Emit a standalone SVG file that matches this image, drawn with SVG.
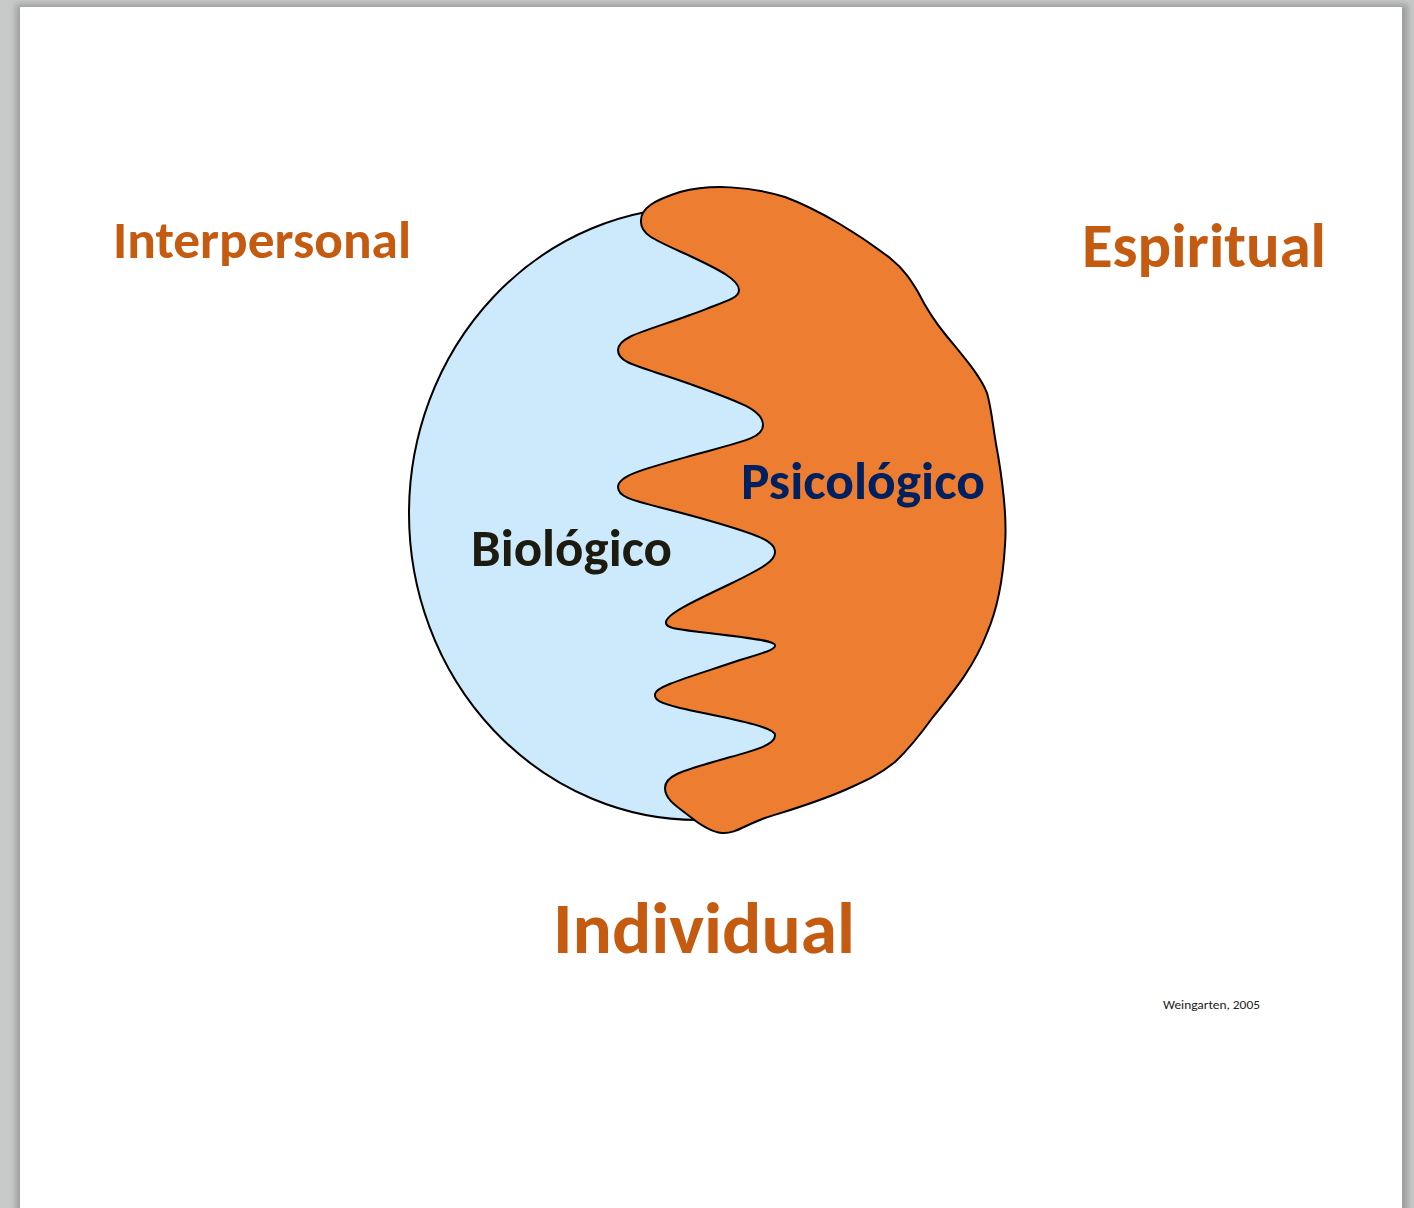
<svg xmlns="http://www.w3.org/2000/svg" width="1414" height="1208" viewBox="0 0 1414 1208">
  <style>
    .dim { font-family: Carlito, Lato, "Liberation Sans", sans-serif; font-weight: bold; fill: #c55a11; }
    .inner { font-family: Carlito, Lato, "Liberation Sans", sans-serif; font-weight: bold; }
    .outline { stroke: #000; stroke-width: 2; stroke-linejoin: round; }
    .credit { font-family: Carlito, Lato, "Liberation Sans", sans-serif; font-size: 12px; fill: #222; }
  </style>
  <defs>
    <filter id="pageShadow" x="-5%" y="-5%" width="110%" height="110%">
      <feGaussianBlur stdDeviation="3"/>
    </filter>
  </defs>

  <!-- viewer background and page -->
  <rect x="0" y="0" width="1414" height="1208" fill="#c8cac9"/>
  <rect x="16" y="4" width="1392" height="1210" fill="#9c9e9d" filter="url(#pageShadow)"/>
  <rect x="20" y="7" width="1382" height="1201" fill="#ffffff"/>

  <!-- biological half: full ellipse -->
  <g id="biologico-area">
    <ellipse cx="698" cy="513.5" rx="289" ry="306.5" fill="#cdeafd" class="outline"/>
  </g>

  <!-- psychological half: wavy region over the right side -->
  <g id="psicologico-area">
    <path class="outline" fill="#ed7d31" d="M 641,222
      C 640,208 655,200 680,192
      C 710,184 750,186 785,197
      C 820,210 860,235 890,258
      C 905,270 912,282 918,292
      C 925,306 932,318 945,334
      C 962,355 980,375 987,393
      C 992,410 993,430 998,455
      C 1003,485 1007,520 1005,545
      C 1003,580 997,610 987,633
      C 975,665 955,690 933,717
      C 920,735 910,748 895,762
      C 875,778 860,783 845,790
      C 815,803 790,810 765,818
      C 745,825 735,834 722,833
      C 712,832 700,825 688,815
      C 673,804 665,798 665,788
      C 665,775 685,770 720,760
      C 755,750 776,745 775,735
      C 775,726 720,717 680,708
      C 660,703 654,700 655,694
      C 656,686 690,677 740,660
      C 770,651 776,649 775,645
      C 774,640 740,637 700,632
      C 675,629 665,628 666,622
      C 667,614 690,603 730,584
      C 765,567 776,560 775,551
      C 774,541 760,535 700,518
      C 640,501 618,500 618,487
      C 618,476 640,470 690,456
      C 745,441 763,438 763,425
      C 763,410 740,402 690,384
      C 640,366 618,364 618,350
      C 618,336 650,330 690,315
      C 730,300 739,298 739,290
      C 739,280 720,270 690,256
      C 655,240 641,235 641,222 Z"/>
  </g>

  <!-- labels inside the figure -->
  <g id="label-biologico">
    <text class="inner" x="471" y="566" font-size="52" fill="#1d1b10" textLength="201" lengthAdjust="spacingAndGlyphs">Biológico</text>
  </g>
  <g id="label-psicologico">
    <text class="inner" x="741" y="499" font-size="52" fill="#002060" textLength="244" lengthAdjust="spacingAndGlyphs">Psicológico</text>
  </g>

  <!-- surrounding dimensions -->
  <g id="label-interpersonal">
    <text class="dim" x="113" y="258" font-size="53" textLength="298" lengthAdjust="spacingAndGlyphs">Interpersonal</text>
  </g>
  <g id="label-espiritual">
    <text class="dim" x="1082" y="267" font-size="63" textLength="244" lengthAdjust="spacingAndGlyphs">Espiritual</text>
  </g>
  <g id="label-individual">
    <text class="dim" x="553" y="953" font-size="73" textLength="302" lengthAdjust="spacingAndGlyphs">Individual</text>
  </g>

  <!-- source note -->
  <g id="credit">
    <text class="credit" x="1163" y="1009" textLength="97" lengthAdjust="spacingAndGlyphs">Weingarten, 2005</text>
  </g>

  <g id="connectors"/>
</svg>
